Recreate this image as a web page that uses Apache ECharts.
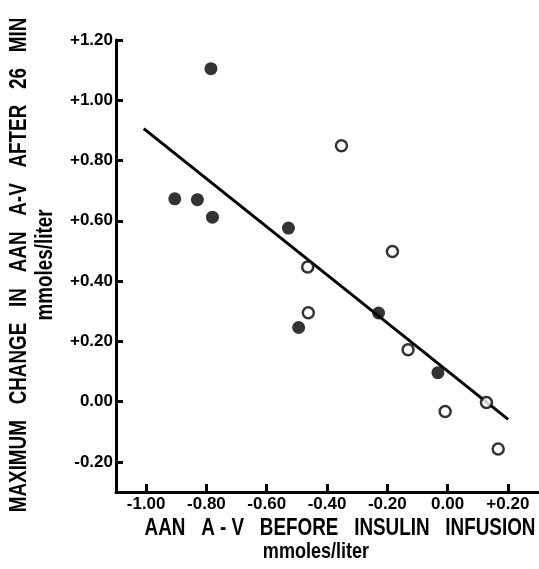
<!DOCTYPE html>
<html>
<head>
<meta charset="utf-8">
<script src="https://cdn.jsdelivr.net/npm/echarts@6/dist/echarts.min.js"></script>
<style>
  html, body { margin: 0; padding: 0; background: #fff; }
  #main { width: 539px; height: 569px; }
</style>
</head>
<body>
<div id="main"></div>
<script>
// solid dots
const solidX = [-0.785, -0.905, -0.83, -0.78, -0.528, -0.494, -0.229, -0.032]
const solidY = [1.105, 0.673, 0.67, 0.612, 0.576, 0.246, 0.294, 0.096]
// open circles
const openX = [-0.352, -0.183, -0.464, -0.462, -0.131, -0.008, 0.129, 0.168]
const openY = [0.849, 0.498, 0.447, 0.295, 0.172, -0.033, -0.003, -0.157]
// fitted line end points
const lineX = [-1.008, 0.201]
const lineY = [0.906, -0.059]

const xTicks = [-1.0, -0.8, -0.6, -0.4, -0.2, 0.0, 0.2]
const xTickLabels = ['-1.00', '-0.80', '-0.60', '-0.40', '-0.20', '0.00', '+0.20']
const yTicks = [-0.2, 0.0, 0.2, 0.4, 0.6, 0.8, 1.0, 1.2]
const yTickLabels = ['-0.20', '0.00', '+0.20', '+0.40', '+0.60', '+0.80', '+1.00', '+1.20']

const zip = (xs, ys) => xs.map((x, i) => [x, ys[i]])
const lookup = (ticks, labels) => v => {
  const i = ticks.findIndex(t => Math.abs(t - v) < 1e-6)
  return i >= 0 ? labels[i] : ''
}

const font = 'Liberation Sans, Arial, sans-serif'
const axisStyle = { color: '#000', width: 3 }
// narrow-looking titles: regular bold squeezed horizontally
const squeeze = 0.82

const myChart = echarts.init(document.getElementById('main'), null, { renderer: 'canvas' })
myChart.setOption({
  animation: false,
  grid: { left: 116, right: 1, top: 40, bottom: 77 },
  xAxis: {
    type: 'value',
    min: -1.1,
    max: 0.3,
    splitLine: { show: false },
    axisLine: { onZero: false, lineStyle: axisStyle },
    axisTick: { inside: true, length: 8, customValues: xTicks, lineStyle: { color: '#000', width: 3 } },
    axisLabel: {
      customValues: xTicks,
      formatter: lookup(xTicks, xTickLabels),
      color: '#000',
      fontFamily: font,
      fontWeight: 'bold',
      fontSize: 17,
      margin: 4
    }
  },
  yAxis: {
    type: 'value',
    min: -0.3,
    max: 1.2,
    splitLine: { show: false },
    axisLine: { onZero: false, lineStyle: axisStyle },
    axisTick: { inside: true, length: 7, customValues: yTicks, lineStyle: { color: '#000', width: 3 } },
    axisLabel: {
      customValues: yTicks,
      formatter: lookup(yTicks, yTickLabels),
      color: '#000',
      fontFamily: font,
      fontWeight: 'bold',
      fontSize: 17,
      margin: 3
    }
  },
  series: [
    {
      type: 'line',
      data: zip(lineX, lineY),
      symbol: 'none',
      lineStyle: { color: '#000', width: 3 },
      z: 1
    },
    {
      type: 'scatter',
      data: zip(solidX, solidY),
      symbol: 'circle',
      symbolSize: 13,
      itemStyle: { color: '#000' },
      z: 3
    },
    {
      type: 'scatter',
      data: zip(openX, openY),
      symbol: 'circle',
      symbolSize: 11,
      itemStyle: { color: '#fff', borderColor: '#000', borderWidth: 2.5 },
      z: 3
    }
  ],
  graphic: [
    {
      type: 'text',
      x: 20, y: 265, rotation: Math.PI / 2, scaleX: squeeze,
      style: {
        text: 'MAXIMUM   CHANGE   IN   AAN   A-V   AFTER   26   MIN',
        font: 'bold 23px ' + font,
        fill: '#000',
        align: 'center',
        verticalAlign: 'middle'
      }
    },
    {
      type: 'text',
      x: 46, y: 265, rotation: Math.PI / 2, scaleX: squeeze,
      style: {
        text: 'mmoles/liter',
        font: 'bold 23px ' + font,
        fill: '#000',
        align: 'center',
        verticalAlign: 'middle'
      }
    },
    {
      type: 'text',
      x: 340, y: 529, scaleX: squeeze,
      style: {
        text: 'AAN   A - V   BEFORE   INSULIN   INFUSION',
        font: 'bold 23px ' + font,
        fill: '#000',
        align: 'center',
        verticalAlign: 'middle'
      }
    },
    {
      type: 'text',
      x: 316, y: 552, scaleX: squeeze,
      style: {
        text: 'mmoles/liter',
        font: 'bold 22px ' + font,
        fill: '#000',
        align: 'center',
        verticalAlign: 'middle'
      }
    }
  ]
})
</script>
</body>
</html>
